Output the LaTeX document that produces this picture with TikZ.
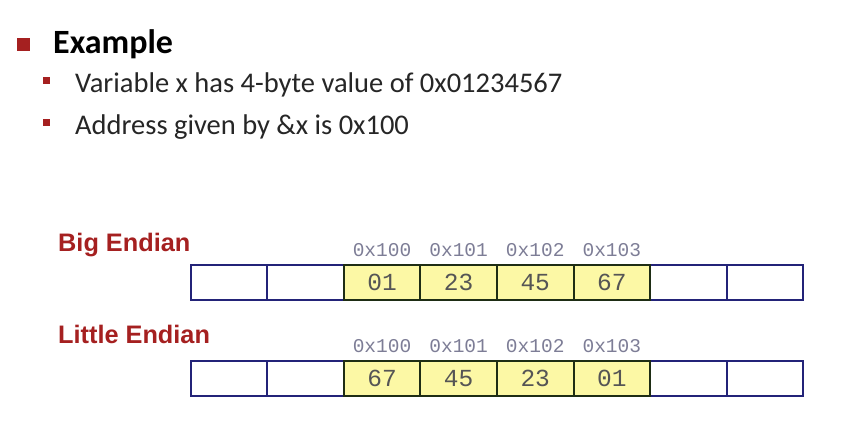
\documentclass[tikz,border=0pt]{standalone}
\usepackage{fontspec}
\setmainfont{Carlito}
\newfontfamily\labfont{Liberation Sans}
\setmonofont{Liberation Mono}
\definecolor{dred}{RGB}{165,32,32}
\definecolor{navy}{RGB}{35,35,120}
\definecolor{cellyel}{RGB}{252,248,165}
\definecolor{olive}{RGB}{30,45,20}
\definecolor{addrcol}{RGB}{125,125,150}
\definecolor{valcol}{RGB}{85,85,85}
\begin{document}
\begin{tikzpicture}[x=1pt,y=-1pt,
  emptycell/.style={draw=navy,line width=2pt,fill=white,minimum width=76.6pt,minimum height=35pt,inner sep=0pt,anchor=north west},
  datacell/.style={draw=olive,line width=2pt,fill=cellyel,minimum width=76.6pt,minimum height=35pt,inner sep=0pt,anchor=north west,font=\ttfamily\fontsize{24.5}{24.5}\selectfont,text=valcol},
  addr/.style={font=\ttfamily\fontsize{19.5}{19.5}\selectfont,text=addrcol,anchor=base,inner sep=0pt},
  rowlab/.style={font=\labfont\bfseries\fontsize{25.3}{25.3}\selectfont,text=dred,anchor=base west,inner sep=0pt},
  bultxt/.style={font=\fontsize{28.5}{28.5}\selectfont,text=black!85,anchor=base west,inner sep=0pt}]
\useasboundingbox (0,0) rectangle (859,429);
\fill[white] (0,0) rectangle (859,429);
% bullets
\node[fill=dred,minimum size=13pt,inner sep=0pt,anchor=north west] (b0) at (17,38) {};
\node[font=\bfseries\fontsize{34}{34}\selectfont,anchor=base west,inner sep=0pt] (ex) at (53,53) {Example};
\node[fill=dred,minimum size=7pt,inner sep=0pt,anchor=north west] (b1) at (43,77) {};
\node[bultxt] (t1) at (75,92) {Variable x has 4-byte value of 0x01234567};
\node[fill=dred,minimum size=7pt,inner sep=0pt,anchor=north west] (b2) at (43,119) {};
\node[bultxt] (t2) at (75,134) {Address given by \&x is 0x100};
% labels
\node[rowlab] (big) at (58,251) {Big Endian};
\node[rowlab] (little) at (58,343) {Little Endian};
% big endian row
\node[emptycell] (r1c1) at (189.5,264) {};
\node[emptycell] (r1c2) at (266.1,264) {};
\node[emptycell] (r1c7) at (649.1,264) {};
\node[emptycell] (r1c8) at (725.7,264) {};
\node[datacell] (r1c3) at (342.7,264) {01};
\node[datacell] (r1c4) at (419.3,264) {23};
\node[datacell] (r1c5) at (495.9,264) {45};
\node[datacell] (r1c6) at (572.5,264) {67};
% little endian row
\node[emptycell] (r2c1) at (189.5,360) {};
\node[emptycell] (r2c2) at (266.1,360) {};
\node[emptycell] (r2c7) at (649.1,360) {};
\node[emptycell] (r2c8) at (725.7,360) {};
\node[datacell] (r2c3) at (342.7,360) {67};
\node[datacell] (r2c4) at (419.3,360) {45};
\node[datacell] (r2c5) at (495.9,360) {23};
\node[datacell] (r2c6) at (572.5,360) {01};
% addresses
\foreach \i/\a in {3/0x100,4/0x101,5/0x102,6/0x103}{
  \node[addr] (a1\i) at ([yshift=8pt]r1c\i.north) {\a};
  \node[addr] (a2\i) at ([yshift=8pt]r2c\i.north) {\a};
}
\end{tikzpicture}
\end{document}
